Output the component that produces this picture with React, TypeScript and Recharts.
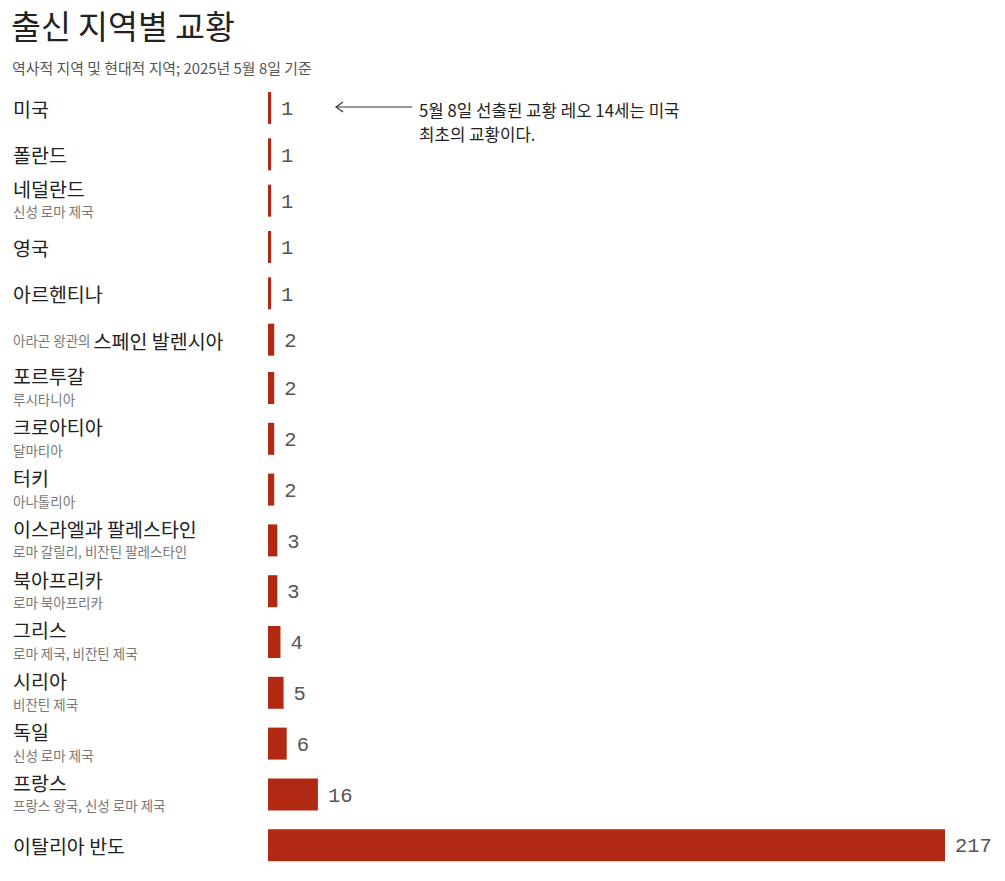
import React from 'react';
import { BarChart, Bar, XAxis, YAxis, LabelList } from 'recharts';

const regions = [
  '미국',
  '폴란드',
  '네덜란드',
  '영국',
  '아르헨티나',
  '스페인 발렌시아',
  '포르투갈',
  '크로아티아',
  '터키',
  '이스라엘과 팔레스타인',
  '북아프리카',
  '그리스',
  '시리아',
  '독일',
  '프랑스',
  '이탈리아 반도',
];

// historical region shown under the modern name
const historicNames = [
  '',
  '',
  '신성 로마 제국',
  '',
  '',
  '',
  '루시타니아',
  '달마티아',
  '아나톨리아',
  '로마 갈릴리, 비잔틴 팔레스타인',
  '로마 북아프리카',
  '로마 제국, 비잔틴 제국',
  '비잔틴 제국',
  '신성 로마 제국',
  '프랑스 왕국, 신성 로마 제국',
  '',
];

// historical region shown inline, before the modern name
const historicPrefix = ['', '', '', '', '', '아라곤 왕관의', '', '', '', '', '', '', '', '', '', ''];

const popes = [1, 1, 1, 1, 1, 2, 2, 2, 2, 3, 3, 4, 5, 6, 16, 217];

const rows = regions.map((region, i) => ({ region, popes: popes[i] }));
const topRows = rows.slice(0, 6);
const bottomRows = rows.slice(6);

const FONT = '"Noto Sans CJK KR", "Noto Sans", sans-serif';
const MONO = '"Liberation Mono", "DejaVu Sans Mono", monospace';
const BAR = '#b22913';
const MAIN = 19.5;
const SUB = 13.5;
const PAD = 20; // room above the first row of each chart for its label

const RegionTick = (props: any) => {
  const { y, payload } = props;
  const i = regions.indexOf(payload.value);
  const sub = historicNames[i];
  const prefix = historicPrefix[i];
  if (prefix) {
    return (
      <text x={13} y={y} dominantBaseline="central" fontFamily={FONT}>
        <tspan fontSize={SUB} fill="#777">{prefix} </tspan>
        <tspan fontSize={MAIN} fill="#222">{payload.value}</tspan>
      </text>
    );
  }
  if (!sub) {
    return (
      <text x={13} y={y} dominantBaseline="central" fontFamily={FONT} fontSize={MAIN} fill="#222">
        {payload.value}
      </text>
    );
  }
  return (
    <g>
      <text x={13} y={y - 12.5} dominantBaseline="central" fontFamily={FONT} fontSize={MAIN} fill="#222">
        {payload.value}
      </text>
      <text x={13} y={y + 10.5} dominantBaseline="central" fontFamily={FONT} fontSize={SUB} fill="#777">
        {sub}
      </text>
    </g>
  );
};

const PopeChart = ({ data, top, height }: { data: any[]; top: number; height: number }) => (
  <div style={{ position: 'absolute', left: 0, top: top - PAD }}>
    <BarChart
      width={1005}
      height={height + PAD}
      data={data}
      layout="vertical"
      margin={{ top: PAD, right: 60, bottom: 0, left: 0 }}
    >
      <XAxis type="number" domain={[0, 217]} hide />
      <YAxis
        type="category"
        dataKey="region"
        width={268}
        axisLine={false}
        tickLine={false}
        interval={0}
        tick={<RegionTick />}
      />
      <Bar dataKey="popes" fill={BAR} barSize={32} isAnimationActive={false}>
        <LabelList
          dataKey="popes"
          position="right"
          offset={10}
          fill="#555"
          fontFamily={MONO}
          fontSize={20.5}
        />
      </Bar>
    </BarChart>
  </div>
);

export default function App() {
  return (
    <div
      style={{
        position: 'absolute',
        left: 0,
        top: 0,
        width: 1005,
        height: 881,
        background: '#fff',
        fontFamily: FONT,
      }}
    >
      <div style={{ position: 'absolute', left: 11, top: 4, fontSize: 32.5, color: '#222', lineHeight: '42px' }}>
        출신 지역별 교황
      </div>
      <div style={{ position: 'absolute', left: 12, top: 58, fontSize: 14.9, color: '#555', lineHeight: '20px' }}>
        역사적 지역 및 현대적 지역; 2025년 5월 8일 기준
      </div>

      <PopeChart data={bottomRows} top={363} height={508} />
      <PopeChart data={topRows} top={85} height={278} />

      <svg style={{ position: 'absolute', left: 0, top: 0 }} width={1005} height={881} pointerEvents="none">
        <line x1={336} y1={107} x2={412} y2={107} stroke="#333" strokeWidth={1.2} />
        <polyline points="343,102 336,107 343,112" fill="none" stroke="#333" strokeWidth={1.2} />
        <text x={419} y={110} dominantBaseline="central" fontFamily={FONT} fontSize={16.8} fill="#222">
          5월 8일 선출된 교황 레오 14세는 미국
        </text>
        <text x={419} y={134} dominantBaseline="central" fontFamily={FONT} fontSize={16.8} fill="#222">
          최초의 교황이다.
        </text>
      </svg>
    </div>
  );
}
